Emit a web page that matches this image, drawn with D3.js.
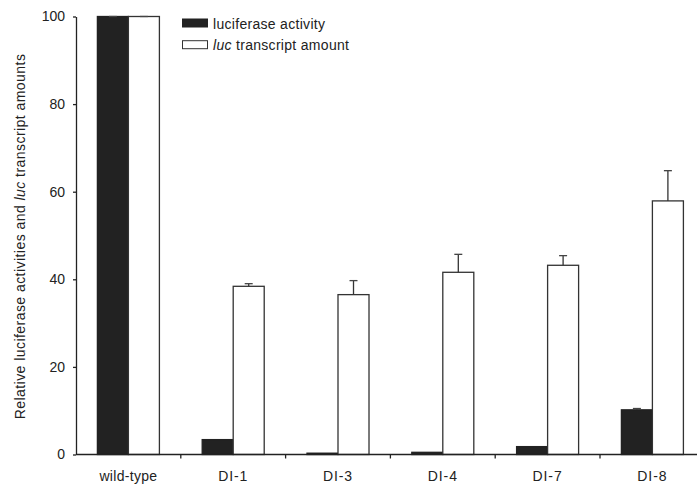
<!DOCTYPE html>
<html>
<head>
<meta charset="utf-8">
<script src="https://cdn.jsdelivr.net/npm/d3@7/dist/d3.min.js"></script>
<style>
  html, body { margin: 0; padding: 0; background: #fff; }
  svg { display: block; }
  text { font-family: "Liberation Sans", Arial, sans-serif; fill: #222; }
</style>
</head>
<body>
<svg id="chart" width="697" height="484"></svg>
<script>
// Constructs and their measured levels (percent of wild-type)
const categories = ["wild-type", "DI-1", "DI-3", "DI-4", "DI-7", "DI-8"];
const activity = [100, 3.4, 0.3, 0.5, 1.8, 10.2];
const activityErr = [0, null, null, null, null, 0.3];
const transcript = [100, 38.4, 36.5, 41.6, 43.2, 57.9];
const transcriptErr = [0, 0.6, 3.2, 4.1, 2.2, 6.9];
const yTicks = [0, 20, 40, 60, 80, 100];

const seriesKeys = ["activity", "transcript"];
const seriesFill = { activity: "#222222", transcript: "#ffffff" };

const rows = categories.map((c, i) => ({
  cat: c,
  activity: activity[i], activityErr: activityErr[i],
  transcript: transcript[i], transcriptErr: transcriptErr[i]
}));

const svg = d3.select("#chart");
const plotLeft = 76, plotBottom = 454.5, plotTop = 16.5, groupStep = 104.8;

const x = d3.scaleBand()
  .domain(categories)
  .range([plotLeft, plotLeft + groupStep * categories.length])
  .padding(0);

const xInner = d3.scaleBand()
  .domain(seriesKeys)
  .range([0, x.bandwidth()])
  .paddingInner(0)
  .paddingOuter(0.69);

const y = d3.scaleLinear().domain([0, 100]).range([plotBottom, plotTop]);

// bars
const groups = svg.append("g").selectAll("g")
  .data(rows).join("g")
  .attr("transform", d => `translate(${x(d.cat)},0)`);

groups.selectAll("rect")
  .data(d => seriesKeys.map(k => ({ key: k, value: d[k], err: d[k + "Err"] })))
  .join("rect")
  .attr("x", d => xInner(d.key))
  .attr("width", xInner.bandwidth())
  .attr("y", d => y(d.value))
  .attr("height", d => y(0) - y(d.value))
  .attr("fill", d => seriesFill[d.key])
  .attr("stroke", d => d.key === "activity" ? "#222" : "#333")
  .attr("stroke-width", 1.3);

// error bars (upper only)
const errs = groups.selectAll("g.err")
  .data(d => seriesKeys
    .map(k => ({ key: k, value: d[k], err: d[k + "Err"] }))
    .filter(e => e.err !== null))
  .join("g").attr("class", "err");

errs.append("line")
  .attr("x1", d => xInner(d.key) + xInner.bandwidth() / 2)
  .attr("x2", d => xInner(d.key) + xInner.bandwidth() / 2)
  .attr("y1", d => y(d.value))
  .attr("y2", d => y(d.value + d.err))
  .attr("stroke", "#333").attr("stroke-width", 1.3);

errs.append("line")
  .attr("x1", d => xInner(d.key) + xInner.bandwidth() / 2 - 4)
  .attr("x2", d => xInner(d.key) + xInner.bandwidth() / 2 + 4)
  .attr("y1", d => y(d.value + d.err))
  .attr("y2", d => y(d.value + d.err))
  .attr("stroke", "#444").attr("stroke-width", 1.3);

// y axis
const yAxis = svg.append("g")
  .attr("transform", `translate(${plotLeft},0)`)
  .call(d3.axisLeft(y).tickValues(yTicks).tickSize(3).tickSizeOuter(0).tickPadding(8));
yAxis.select(".domain").attr("stroke", "#222").attr("stroke-width", 1.3);
yAxis.selectAll(".tick line").attr("stroke", "#222").attr("stroke-width", 1.3);
yAxis.selectAll(".tick text")
  .attr("font-family", "Liberation Sans, Arial, sans-serif")
  .attr("font-size", 14).attr("fill", "#222");

// x axis: baseline, ticks at group boundaries, centred labels
const xAxis = svg.append("g");
xAxis.append("line")
  .attr("x1", plotLeft).attr("x2", x.range()[1])
  .attr("y1", y(0)).attr("y2", y(0))
  .attr("stroke", "#222").attr("stroke-width", 1.3);
xAxis.selectAll("line.tick")
  .data(categories.slice(1)).join("line").attr("class", "tick")
  .attr("x1", d => x(d)).attr("x2", d => x(d))
  .attr("y1", y(0)).attr("y2", y(0) + 4)
  .attr("stroke", "#222").attr("stroke-width", 1.3);
xAxis.selectAll("text")
  .data(categories).join("text")
  .attr("x", d => x(d) + x.bandwidth() / 2)
  .attr("y", y(0) + 26)
  .attr("text-anchor", "middle")
  .attr("font-size", 14)
  .attr("letter-spacing", d => d.startsWith("DI") ? "0.9px" : "0.3px")
  .text(d => d);

// y axis title
const title = svg.append("text")
  .attr("transform", `translate(25,${(plotTop + plotBottom) / 2 + 1}) rotate(-90)`)
  .attr("text-anchor", "middle")
  .attr("font-size", 14)
  .attr("letter-spacing", "0.45px");
title.append("tspan").text("Relative luciferase activities and ");
title.append("tspan").attr("font-style", "italic").text("luc");
title.append("tspan").text(" transcript amounts");

// legend
const legend = svg.append("g").attr("transform", "translate(182.5,19)");
legend.append("rect").attr("x", 0).attr("y", 0).attr("width", 25).attr("height", 8)
  .attr("fill", seriesFill.activity).attr("stroke", "#222").attr("stroke-width", 1);
legend.append("rect").attr("x", 0).attr("y", 21.7).attr("width", 25).attr("height", 8)
  .attr("fill", seriesFill.transcript).attr("stroke", "#333").attr("stroke-width", 1);
legend.append("text").attr("x", 30.5).attr("y", 9.5)
  .attr("font-size", 14).attr("letter-spacing", "0.3px")
  .text("luciferase activity");
const l2 = legend.append("text").attr("x", 30.5).attr("y", 31.2)
  .attr("font-size", 14).attr("letter-spacing", "0.3px");
l2.append("tspan").attr("font-style", "italic").text("luc");
l2.append("tspan").text(" transcript amount");
</script>
</body>
</html>
